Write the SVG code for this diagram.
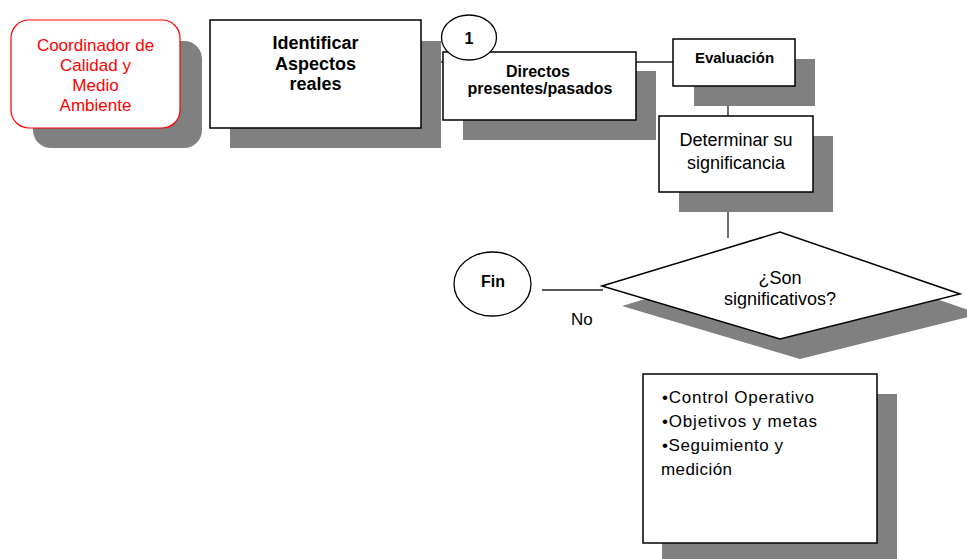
<svg xmlns="http://www.w3.org/2000/svg" width="967" height="559" viewBox="0 0 967 559">
  <style>
    .shadow { fill: #808080; stroke: none; }
    .box { fill: #ffffff; stroke: #000000; stroke-width: 1.5; }
    .conn { stroke: #222222; stroke-width: 1.3; fill: none; }
    .t { font-family: "Liberation Sans", Arial, sans-serif; fill: #000000; }
    .red { fill: #ff0000; }
    .b { font-weight: bold; }
    .mid { text-anchor: middle; }
  </style>
  <defs>
    <clipPath id="diaClip">
      <rect x="600" y="230" width="367" height="78.5"/>
    </clipPath>
  </defs>
  <rect x="0" y="0" width="967" height="559" fill="#ffffff"/>

  <g id="connectors">
    <line class="conn" x1="421" y1="62" x2="443" y2="62"/>
    <line class="conn" x1="636" y1="62" x2="673" y2="62"/>
    <line class="conn" x1="728" y1="86" x2="728" y2="116"/>
    <line class="conn" x1="728" y1="192" x2="728" y2="238"/>
    <line class="conn" x1="542" y1="290" x2="603" y2="290"/>
  </g>

  <g id="coordinador">
    <rect class="shadow" x="33" y="41" width="169" height="107" rx="18"/>
    <rect x="11" y="20" width="169" height="108" rx="18" fill="#ffffff" stroke="#ff0000" stroke-width="1.2"/>
    <text class="t red mid" x="95.5" y="51" font-size="17">Coordinador de</text>
    <text class="t red mid" x="95.5" y="71" font-size="17">Calidad y</text>
    <text class="t red mid" x="95.5" y="91" font-size="17">Medio</text>
    <text class="t red mid" x="95.5" y="111" font-size="17">Ambiente</text>
  </g>

  <g id="identificar">
    <rect class="shadow" x="230" y="41" width="211" height="107"/>
    <rect class="box" x="210" y="20" width="211" height="108"/>
    <text class="t b mid" x="315.5" y="49" font-size="18">Identificar</text>
    <text class="t b mid" x="315.5" y="69.5" font-size="18">Aspectos</text>
    <text class="t b mid" x="315.5" y="90" font-size="18">reales</text>
  </g>

  <g id="directos">
    <rect class="shadow" x="463" y="71" width="193" height="69"/>
    <rect class="box" x="443" y="52" width="193" height="68"/>
    <text class="t b mid" x="538" y="77" font-size="16">Directos</text>
    <text class="t b mid" x="540" y="93.5" font-size="16">presentes/pasados</text>
  </g>

  <g id="num1">
    <ellipse cx="469" cy="37.5" rx="27.5" ry="22.5" fill="#ffffff" stroke="#000000" stroke-width="1.3"/>
    <text class="t b mid" x="469" y="44" font-size="16">1</text>
  </g>

  <g id="evaluacion">
    <rect class="shadow" x="694" y="59" width="121" height="47"/>
    <rect class="box" x="673" y="39" width="122" height="47"/>
    <text class="t b mid" x="734.5" y="63" font-size="15">Evaluación</text>
  </g>

  <g id="determinar">
    <rect class="shadow" x="679" y="136" width="154" height="76"/>
    <rect class="box" x="659" y="116" width="154" height="76"/>
    <text class="t mid" x="736" y="146" font-size="18">Determinar su</text>
    <text class="t mid" x="736" y="169" font-size="18">significancia</text>
  </g>

  <g id="decision">
    <polygon class="shadow" points="622,306 800,252 980,314 800,359"/>
    <polygon class="box" points="602,286 780,232 960,294 780,339"/>
    <g clip-path="url(#diaClip)">
      <text class="t mid" x="780" y="284" font-size="18">¿Son</text>
      <text class="t mid" x="780" y="305" font-size="18">significativos?</text>
    </g>
  </g>

  <g id="fin">
    <ellipse cx="492.5" cy="284" rx="38.5" ry="32" fill="#ffffff" stroke="#000000" stroke-width="1.3"/>
    <text class="t b mid" x="493" y="287" font-size="16">Fin</text>
  </g>

  <g id="label-no">
    <text class="t" x="571" y="325" font-size="17">No</text>
  </g>

  <g id="acciones">
    <rect class="shadow" x="662" y="394" width="235" height="170"/>
    <rect class="box" x="643" y="374" width="234" height="169"/>
    <text class="t" x="662" y="403" font-size="17" textLength="152" lengthAdjust="spacing">•Control Operativo</text>
    <text class="t" x="662" y="427" font-size="17" textLength="155" lengthAdjust="spacing">•Objetivos y metas</text>
    <text class="t" x="662" y="451" font-size="17" textLength="121" lengthAdjust="spacing">•Seguimiento y</text>
    <text class="t" x="661" y="475" font-size="17" textLength="71" lengthAdjust="spacing">medición</text>
  </g>
</svg>
